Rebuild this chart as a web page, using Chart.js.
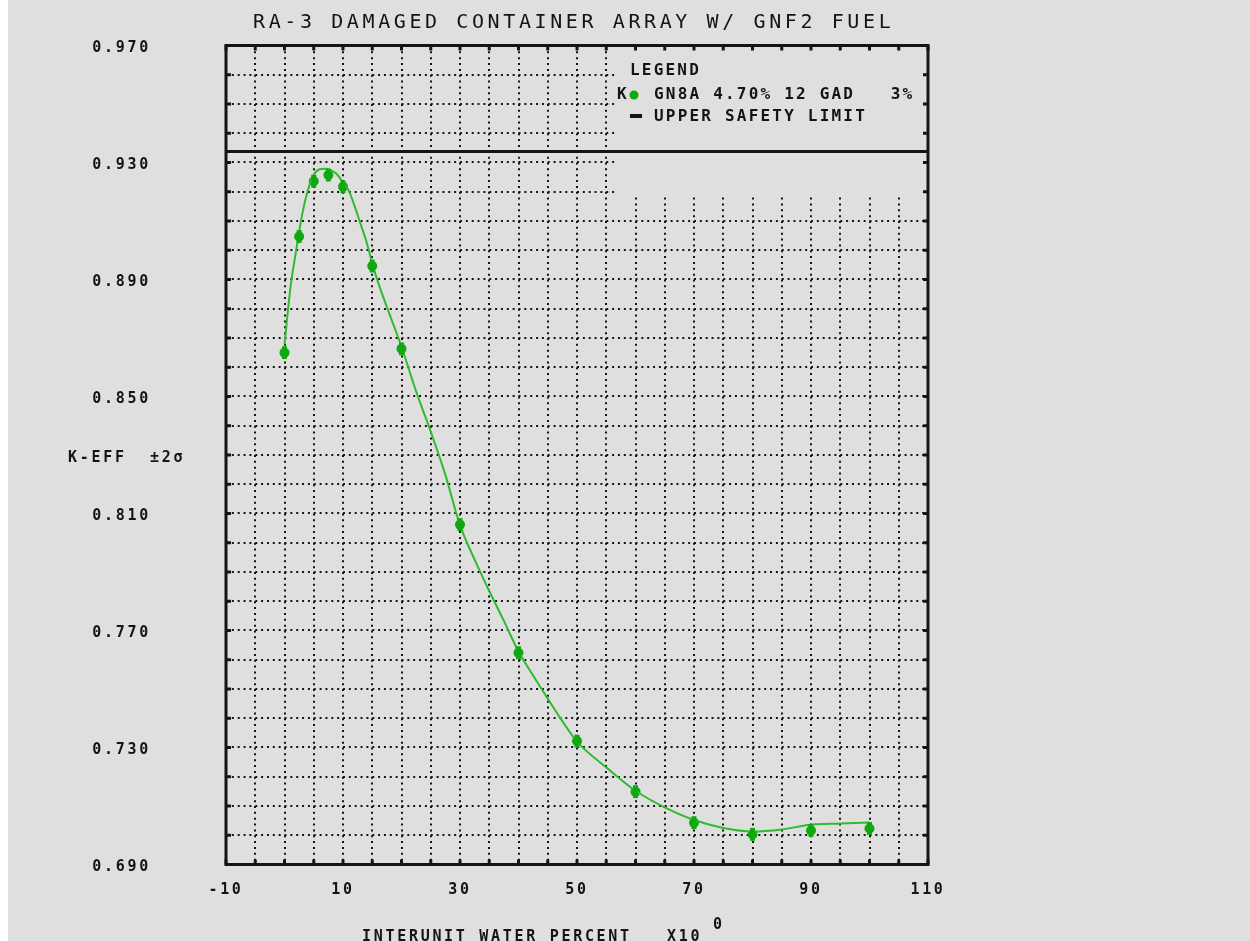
<!DOCTYPE html>
<html>
<head>
<meta charset="utf-8">
<script src="https://cdn.jsdelivr.net/npm/chart.js@4.4.1/dist/chart.umd.min.js"></script>
<style>
  html, body { margin: 0; padding: 0; background: #ffffff; }
  canvas { display: block; }
</style>
</head>
<body>
<canvas id="keff" width="1250" height="941"></canvas>
<script>
// Calculated k-eff points (interunit water %, k-eff, 2-sigma)
const waterPct = [0, 2.5, 5, 7.5, 10, 15, 20, 30, 40, 50, 60, 70, 80, 90, 100];
const kEff = [0.8650, 0.9047, 0.9236, 0.9257, 0.9217, 0.8946, 0.8663, 0.8062, 0.7624, 0.7322, 0.7149, 0.7043, 0.7003, 0.7016, 0.7023];
const twoSigma = [0.0022, 0.0022, 0.0022, 0.0022, 0.0022, 0.0022, 0.0022, 0.0022, 0.0022, 0.0022, 0.0022, 0.0022, 0.0022, 0.0022, 0.0022];

// Smoothed fit through the calculated points
const fitPct = [0, 1, 2, 3, 4, 5, 6, 7, 8, 9, 10, 11, 12, 13, 14, 15, 16, 18, 20, 22.5, 25, 27.5, 30, 32.5, 35, 37.5, 40, 42.5, 45, 47.5, 50, 55, 60, 65, 70, 75, 80, 85, 90, 95, 100];
const fitK = [0.8678, 0.8870, 0.9000, 0.9120, 0.9205, 0.9258, 0.9277, 0.9279, 0.9273, 0.9259, 0.9232, 0.9203, 0.9150, 0.9090, 0.9030, 0.8955, 0.8890, 0.8779, 0.8670, 0.8517, 0.8380, 0.8232, 0.8060, 0.7942, 0.7835, 0.7733, 0.7628, 0.7546, 0.7467, 0.7390, 0.7320, 0.7232, 0.7152, 0.7095, 0.7052, 0.7025, 0.7013, 0.7020, 0.7036, 0.7040, 0.7044];

const upperSafetyLimit = 0.9338;

// Axis ranges and tick spacing
const xRange = [-10, 110];
const xStep = 5;
const xLabelEvery = 20;
const yRange = [0.690, 0.970];
const yStep = 0.01;
const yLabelEvery = 4;

// Text
const titleText = 'RA-3 DAMAGED CONTAINER ARRAY W/ GNF2 FUEL';
const xTitleText = 'INTERUNIT WATER PERCENT   X10';
const xTitleExp = '0';
const yTitleText = 'K-EFF  \u00B12\u03C3';
const legendHead = 'LEGEND';
const seriesName = 'GN8A 4.70% 12 GAD   3%';
const seriesKey = 'K';
const uslName = 'UPPER SAFETY LIMIT';

const BG = '#dfdfdf';
const INK = '#141414';
const MARK = '#10a810';
const CURVE = '#2fba2f';
const MONO = '"DejaVu Sans Mono", "Liberation Mono", monospace';

const toXY = (xs, ys) => xs.map((v, i) => ({ x: v, y: ys[i] }));

const plotFrame = {
  id: 'plotFrame',
  beforeDraw(chart) {
    const ctx = chart.ctx;
    ctx.save();
    ctx.fillStyle = '#ffffff';
    ctx.fillRect(0, 0, chart.width, chart.height);
    ctx.fillStyle = BG;
    ctx.fillRect(8, 0, chart.width - 8, chart.height);
    ctx.restore();
    ctx.letterSpacing = '2.7px';
  },
  beforeDatasetsDraw(chart) {
    // the legend block sits on a plain field, grid removed behind it
    const { ctx, chartArea: a, scales: { x, y } } = chart;
    const l = x.getPixelForValue(57);
    const b = y.getPixelForValue(0.9185);
    ctx.save();
    ctx.fillStyle = BG;
    ctx.fillRect(l, a.top + 2, a.right - l - 2, b - a.top - 2);
    ctx.restore();
  },
  afterDatasetsDraw(chart) {
    // +/- 2 sigma bars on each calculated point
    const { ctx, scales: { x, y } } = chart;
    ctx.save();
    ctx.strokeStyle = MARK;
    ctx.lineWidth = 5;
    waterPct.forEach((w, i) => {
      const px = x.getPixelForValue(w);
      ctx.beginPath();
      ctx.moveTo(px, y.getPixelForValue(kEff[i] + twoSigma[i]));
      ctx.lineTo(px, y.getPixelForValue(kEff[i] - twoSigma[i]));
      ctx.stroke();
    });
    ctx.restore();
  },
  afterDraw(chart) {
    const { ctx, chartArea: a, scales: { x, y } } = chart;
    ctx.save();
    // inward tick marks on all four sides
    ctx.strokeStyle = INK;
    ctx.lineWidth = 3;
    y.ticks.forEach(t => {
      const py = y.getPixelForValue(t.value);
      ctx.beginPath();
      ctx.moveTo(a.left, py); ctx.lineTo(a.left + 5, py);
      ctx.moveTo(a.right - 5, py); ctx.lineTo(a.right, py);
      ctx.stroke();
    });
    x.ticks.forEach(t => {
      const px = x.getPixelForValue(t.value);
      ctx.beginPath();
      ctx.moveTo(px, a.bottom); ctx.lineTo(px, a.bottom - 5);
      ctx.moveTo(px, a.top); ctx.lineTo(px, a.top + 5);
      ctx.stroke();
    });
    // plot frame
    ctx.lineWidth = 3;
    ctx.strokeRect(a.left, a.top, a.right - a.left, a.bottom - a.top);

    ctx.fillStyle = INK;
    ctx.textBaseline = 'middle';
    ctx.textAlign = 'left';

    // title
    ctx.font = '20px ' + MONO;
    ctx.letterSpacing = '3.6px';
    ctx.fillText(titleText, 253, 23);

    // axis titles
    ctx.font = 'bold 15px ' + MONO;
    ctx.letterSpacing = '2.7px';
    ctx.fillText(xTitleText, 362, 937);
    ctx.fillText(xTitleExp, 713, 925);
    ctx.fillText(yTitleText, 68, 458);

    // legend
    ctx.font = 'bold 16px ' + MONO;
    ctx.letterSpacing = '2.2px';
    ctx.fillText(legendHead, 630, 71);
    ctx.fillText(seriesKey, 617, 95);
    ctx.fillText(chart.data.datasets[1].label, 654, 95);
    ctx.fillText(chart.data.datasets[2].label, 654, 117);
    ctx.fillStyle = MARK;
    ctx.beginPath();
    ctx.arc(634, 95, 4.5, 0, Math.PI * 2);
    ctx.fill();
    ctx.strokeStyle = INK;
    ctx.lineWidth = 4;
    ctx.beginPath();
    ctx.moveTo(630, 116); ctx.lineTo(642, 116);
    ctx.stroke();
    ctx.restore();
  }
};

const tickFont = { family: MONO, size: 15, weight: 'bold' };

new Chart(document.getElementById('keff'), {
  type: 'line',
  data: {
    datasets: [
      {
        label: 'fit',
        data: toXY(fitPct, fitK),
        borderColor: CURVE,
        borderWidth: 2,
        pointRadius: 0,
        cubicInterpolationMode: 'monotone',
        fill: false
      },
      {
        label: seriesName,
        data: toXY(waterPct, kEff),
        showLine: false,
        pointRadius: 5,
        pointBackgroundColor: MARK,
        pointBorderWidth: 0,
        borderColor: MARK
      },
      {
        label: uslName,
        data: toXY(xRange, [upperSafetyLimit, upperSafetyLimit]),
        borderColor: INK,
        borderWidth: 3,
        pointRadius: 0,
        fill: false
      }
    ]
  },
  options: {
    responsive: false,
    animation: false,
    devicePixelRatio: 1,
    layout: { padding: { left: 0, right: 322, top: 45.5, bottom: 0 } },
    plugins: {
      legend: { display: false },
      title: { display: false },
      tooltip: { enabled: false }
    },
    scales: {
      x: {
        type: 'linear',
        min: xRange[0],
        max: xRange[1],
        afterFit: s => { s.height = 76.5; s.paddingLeft = 0; s.paddingRight = 0; },
        grid: { color: INK, lineWidth: 2, drawTicks: false, borderDash: [2, 3.85] },
        border: { display: false, dash: [2, 3.85] },
        ticks: {
          stepSize: xStep,
          autoSkip: false,
          maxRotation: 0,
          padding: 17,
          color: INK,
          font: tickFont,
          callback: v => (Math.round(v - xRange[0]) % xLabelEvery === 0 ? String(Math.round(v)) : '')
        }
      },
      y: {
        type: 'linear',
        min: yRange[0],
        max: yRange[1],
        afterFit: s => { s.width = 226; s.paddingTop = 0; s.paddingBottom = 0; },
        grid: { color: INK, lineWidth: 2, drawTicks: false, borderDash: [2, 3.85] },
        border: { display: false, dash: [2, 3.85] },
        ticks: {
          stepSize: yStep,
          autoSkip: false,
          padding: 75,
          labelOffset: 3,
          color: INK,
          font: tickFont,
          callback: v => (Math.round((v - yRange[0]) / yStep) % yLabelEvery === 0 ? v.toFixed(3) : '')
        }
      }
    }
  },
  plugins: [plotFrame]
});
</script>
</body>
</html>
